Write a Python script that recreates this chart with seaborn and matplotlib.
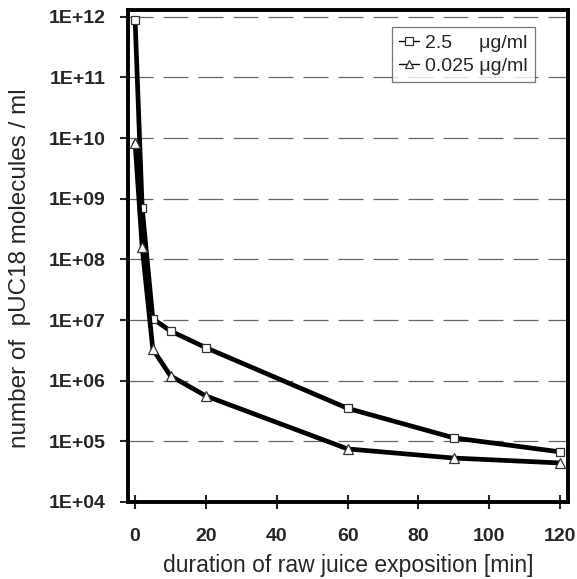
import numpy as np
import pandas as pd
import matplotlib
matplotlib.use("Agg")
import matplotlib.pyplot as plt
import seaborn as sns

# data
minutes = [0, 2, 5, 10, 20, 60, 90, 120]
conc_high = [9.0e11, 7.0e8, 1.05e7, 6.6e6, 3.5e6, 3.5e5, 1.14e5, 6.7e4]   # 2.5 ug/ml
conc_low = [8.4e9, 1.6e8, 3.3e6, 1.2e6, 5.6e5, 7.5e4, 5.3e4, 4.4e4]      # 0.025 ug/ml
labels = ["2.5     \u03bcg/ml", "0.025 \u03bcg/ml"]
yticks = [10.0 ** k for k in range(4, 13)]
ytick_labels = ["1E+%02d" % k for k in range(4, 13)]
xticks = [0, 20, 40, 60, 80, 100, 120]

sns.set_theme(style="white")
plt.rcParams['font.family'] = ['Liberation Sans', 'DejaVu Sans']

df = pd.DataFrame({
    "minutes": minutes * 2,
    "count": conc_high + conc_low,
    "series": [labels[0]] * len(minutes) + [labels[1]] * len(minutes),
})

W, H = 577, 579
fig = plt.figure(figsize=(W / 100, H / 100), dpi=100)
ax = fig.add_axes([128 / W, 1 - 502 / H, 440 / W, 492.5 / H])

for lab, mk, ms in zip(labels, ["s", "^"], [6.2, 7]):
    sub = df[df.series == lab]
    sns.lineplot(data=sub, x="minutes", y="count", ax=ax, color="black",
                 linewidth=3.4, marker=mk, markersize=ms,
                 markerfacecolor="white", markeredgecolor="#333333",
                 markeredgewidth=0.9, label=lab, zorder=3)

ax.set_yscale("log")
ax.set_ylim(1e4, 10 ** 12.12)
ax.set_xlim(-2, 122.2)
ax.set_yticks(yticks)
ax.set_yticklabels(ytick_labels)
ax.minorticks_off()
ax.set_xticks(xticks)

for y in yticks[1:]:
    ax.axhline(y, color="#666666", linewidth=0.9, linestyle=(0, (20, 8)), zorder=1)

for s in ax.spines.values():
    s.set_linewidth(2.8)
    s.set_color("black")

ax.tick_params(axis="y", direction="out", length=6, width=1.5, labelsize=14, pad=10, left=True)
ax.tick_params(axis="x", direction="inout", length=10, width=1.5, labelsize=14, pad=14, bottom=True)
for t in ax.get_xticklabels() + ax.get_yticklabels():
    t.set_fontweight("bold")

ax.set_xlabel("duration of raw juice exposition [min]", fontsize=16.5, labelpad=6)
ax.set_ylabel("")
fig.text(20 / W, 1 - 268 / H, "number of  pUC18 molecules / ml", fontsize=17.5,
         rotation=90, ha="center", va="center")

leg = ax.legend(loc="upper right", bbox_to_anchor=(0.925, 0.965), fontsize=14,
                handlelength=1.0, handletextpad=0.3, borderpad=0.4,
                labelspacing=0.25, frameon=True, fancybox=False, markerscale=0.9,
                borderaxespad=0)
leg.get_frame().set_edgecolor("#555555")
leg.get_frame().set_linewidth(0.9)
for h in leg.get_lines():
    h.set_linewidth(1.0)

fig.savefig("out.png", dpi=100)
